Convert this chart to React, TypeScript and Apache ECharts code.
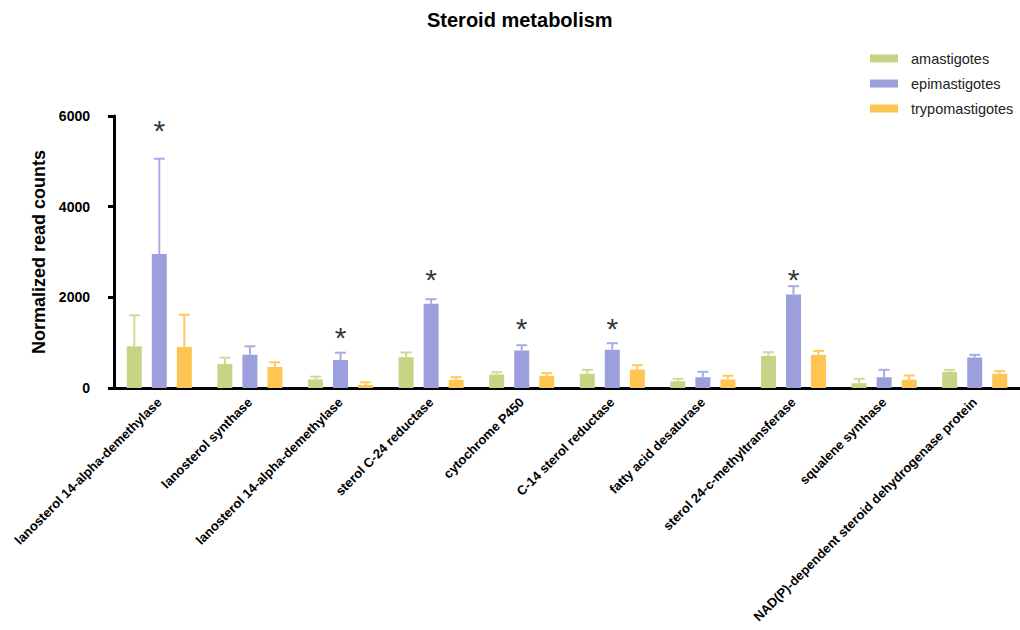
import React, { useEffect, useRef } from "react";
import * as echarts from "echarts";

const categories = [
  "lanosterol 14-alpha-demethylase",
  "lanosterol synthase",
  "lanosterol 14-alpha-demethylase",
  "sterol C-24 reductase",
  "cytochrome P450",
  "C-14 sterol reductase",
  "fatty acid desaturase",
  "sterol 24-c-methyltransferase",
  "squalene synthase",
  "NAD(P)-dependent steroid dehydrogenase protein",
];
const seriesNames = ["amastigotes", "epimastigotes", "trypomastigotes"];
const amastigotes = [920, 529, 191, 680, 298, 313, 150, 710, 106, 357];
const amastigotesUpper = [1604, 668, 250, 783, 349, 401, 203, 790, 203, 401];
const epimastigotes = [2956, 735, 618, 1857, 827, 843, 238, 2063, 238, 673];
const epimastigotesUpper = [5058, 920, 779, 1959, 944, 988, 357, 2246, 401, 732];
const trypomastigotes = [904, 463, 66, 181, 269, 408, 187, 732, 181, 313];
const trypomastigotesUpper = [1617, 566, 125, 238, 327, 503, 269, 820, 276, 371];
const starLevels: (number | null)[] = [5680, null, 1120, 2400, 1310, 1310, null, 2400, null, null];
const yTicks = [0, 2000, 4000, 6000];

const colors = ["#c6d486", "#9b9fde", "#ffc552"];
const errColors = ["#cddb96", "#a7abe6", "#ffc95e"];
const FONT = "Liberation Sans, Arial, sans-serif";

export default function App() {
  const ref = useRef<HTMLDivElement>(null);
  useEffect(() => {
    if (!ref.current) return;
    const chart = echarts.init(ref.current, undefined, { renderer: "svg" });
    const means = [amastigotes, epimastigotes, trypomastigotes];
    const uppers = [amastigotesUpper, epimastigotesUpper, trypomastigotesUpper];
    const offsets = [-25, 0, 25];

    const barSeries = seriesNames.map((name, s) => ({
      name,
      type: "bar",
      data: means[s],
      barWidth: 15,
      barGap: "67%",
      itemStyle: { color: colors[s] },
      z: 2,
    }));

    const errSeries = seriesNames.map((name, s) => ({
      name: name + "-err",
      type: "custom",
      data: means[s].map((v, i) => [i, v, uppers[s][i]]),
      encode: { x: 0, y: [1, 2] },
      z: 3,
      silent: true,
      renderItem: (params: any, api: any) => {
        const i = api.value(0);
        const lo = api.coord([i, api.value(1)]);
        const hi = api.coord([i, api.value(2)]);
        const x = lo[0] + offsets[s];
        const style = { stroke: errColors[s], lineWidth: 2 };
        return {
          type: "group",
          children: [
            { type: "line", shape: { x1: x, y1: lo[1], x2: x, y2: hi[1] }, style },
            { type: "line", shape: { x1: x - 5.5, y1: hi[1], x2: x + 5.5, y2: hi[1] }, style },
          ],
        };
      },
    }));

    const starData = starLevels
      .map((v, i) => (v === null ? null : [i, v]))
      .filter((d) => d !== null);

    chart.setOption({
      animation: false,
      title: {
        text: "Steroid metabolism",
        left: 427,
        top: 10,
        padding: 0,
        textStyle: { fontFamily: FONT, fontSize: 20, fontWeight: "bold", color: "#000" },
      },
      legend: {
        data: seriesNames,
        orient: "vertical",
        left: 865,
        top: 46,
        itemWidth: 28,
        itemHeight: 8,
        itemGap: 10,
        icon: "rect",
        textStyle: { fontFamily: FONT, fontSize: 14.5, color: "#222", padding: [0, 0, 0, 8] },
      },
      grid: { left: 114, top: 116, width: 914, height: 272, containLabel: false },
      xAxis: {
        type: "category",
        data: categories,
        axisLine: { lineStyle: { color: "#000", width: 3 } },
        axisTick: { alignWithLabel: true, length: 6, lineStyle: { color: "#000", width: 3 } },
        axisLabel: {
          interval: 0,
          rotate: 45,
          margin: 12,
          fontFamily: FONT,
          fontSize: 13,
          fontWeight: "bold",
          color: "#000",
        },
      },
      yAxis: {
        type: "value",
        min: 0,
        max: 6000,
        interval: 2000,
        name: "Normalized read counts",
        nameLocation: "middle",
        nameGap: 60.5,
        nameTextStyle: { fontFamily: FONT, fontSize: 18, fontWeight: "bold", color: "#000" },
        axisLine: { show: true, lineStyle: { color: "#000", width: 3 } },
        axisTick: { show: true, length: 6, lineStyle: { color: "#000", width: 3 } },
        axisLabel: {
          margin: 24,
          fontFamily: FONT,
          fontSize: 14,
          fontWeight: "bold",
          color: "#000",
          formatter: (v: number) => (yTicks.includes(v) ? String(v) : ""),
        },
        splitLine: { show: false },
      },
      series: [
        ...barSeries,
        ...errSeries,
        {
          name: "significance",
          type: "scatter",
          data: starData,
          symbolSize: 1,
          itemStyle: { color: "transparent" },
          silent: true,
          z: 4,
          label: {
            show: true,
            position: "inside",
            formatter: "*",
            fontFamily: FONT,
            fontSize: 30,
            color: "#000",
          },
        },
      ],
    });
    return () => chart.dispose();
  }, []);
  return (
    <div
      ref={ref}
      style={{ position: "fixed", left: 0, top: 0, width: 1020, height: 630, background: "#fff" }}
    />
  );
}
